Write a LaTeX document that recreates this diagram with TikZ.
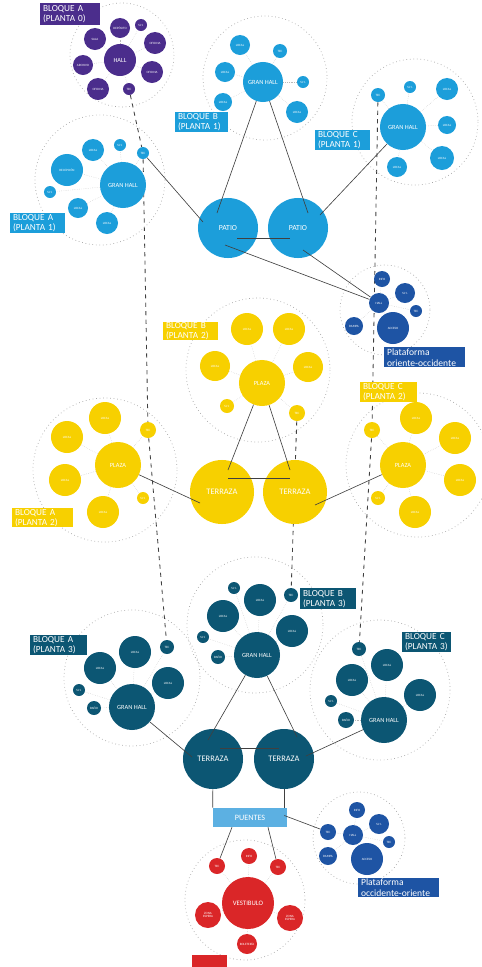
\documentclass[tikz,border=0pt]{standalone}
\usepackage{fontspec}
\setmainfont{Carlito}
\usetikzlibrary{backgrounds}
\definecolor{violeta}{RGB}{75,45,140}
\definecolor{celeste}{RGB}{28,158,218}
\definecolor{azul}{RGB}{30,84,164}
\definecolor{amarillo}{RGB}{247,208,0}
\definecolor{petroleo}{RGB}{12,86,115}
\definecolor{puente}{RGB}{92,176,226}
\definecolor{rojo}{RGB}{218,38,40}

\begin{document}
\begin{tikzpicture}[x=0.025cm, y=-0.025cm,
    sala/.style={circle, inner sep=0pt, minimum size=#1*0.05cm, text=white, align=center, font=\fontsize{2.3}{2.6}\selectfont},
    hub/.style={sala=#1, font=\fontsize{4.5}{5}\selectfont},
    grande/.style={sala=#1, font=\fontsize{6}{7}\selectfont},
    zona/.style={gray!70, dotted, line width=0.5pt},
    radio/.style={gray!55, densely dotted, line width=0.3pt},
    enlace/.style={black!75, line width=0.45pt},
    nivel/.style={black!75, dashed, line width=0.6pt},
    rotulo/.style={anchor=north west, inner xsep=2pt, inner ysep=0pt, text=white, align=left,
        minimum width=#1*0.025cm, text width=#1*0.025cm-4pt, minimum height=20*0.025cm,
        font=\fontsize{6.6}{7}\selectfont}]
    \useasboundingbox (0,0) rectangle (481,967);

    % bloque A planta 0
    \draw[zona] (122,55) circle (52);
    \node[hub=16, fill=violeta] (hallA0) at (120,60) {HALL};
    \node[sala=10, fill=violeta] (a0a) at (120,28) {DEPÓSITO};
    \node[sala=6, fill=violeta] (a0b) at (141,25) {S.H.};
    \node[sala=11, fill=violeta] (a0c) at (155,43) {OFICINA};
    \node[sala=11, fill=violeta] (a0d) at (95,39) {SALA};
    \node[sala=10, fill=violeta] (a0e) at (83,65) {ARCHIVO};
    \node[sala=11, fill=violeta] (a0f) at (152,72) {OFICINA};
    \node[sala=11, fill=violeta] (a0g) at (98,89) {OFICINA};
    \node[sala=6, fill=violeta] (tecA0) at (129,89) {TEC};
    \node[rotulo=60, fill=violeta, minimum height=22*0.025cm] (rotA0) at (40,3) {BLOQUE A\\(PLANTA 0)};

    % bloque B planta 1
    \draw[zona] (265,78) circle (62);
    \node[hub=20, fill=celeste] (hallB1) at (263,82) {GRAN HALL};
    \node[sala=10, fill=celeste] (b1a) at (240,45) {LOCAL};
    \node[sala=7, fill=celeste] (tecB1) at (280,51) {TEC};
    \node[sala=10, fill=celeste] (b1c) at (225,72) {LOCAL};
    \node[sala=6, fill=celeste] (b1d) at (303,82) {S.H.};
    \node[sala=9, fill=celeste] (b1e) at (223,102) {LOCAL};
    \node[sala=11, fill=celeste] (b1f) at (297,112) {LOCAL};
    \node[rotulo=53, fill=celeste] (rotB1) at (175,112) {BLOQUE B\\(PLANTA 1)};

    % bloque C planta 1
    \draw[zona] (415,122) circle (63);
    \node[hub=23, fill=celeste] (hallC1) at (403,127) {GRAN HALL};
    \node[sala=7, fill=celeste] (tecC1) at (378,95) {TEC};
    \node[sala=6, fill=celeste] (c1b) at (410,87) {S.H.};
    \node[sala=11, fill=celeste] (c1c) at (447,89) {LOCAL};
    \node[sala=9, fill=celeste] (c1d) at (447,125) {LOCAL};
    \node[sala=12, fill=celeste] (c1e) at (442,158) {LOCAL};
    \node[sala=10, fill=celeste] (c1f) at (397,167) {LOCAL};
    \node[rotulo=55, fill=celeste] (rotC1) at (315,130) {BLOQUE C\\(PLANTA 1)};

    % bloque A planta 1
    \draw[zona] (100,180) circle (65);
    \node[hub=23, fill=celeste] (hallA1) at (123,185) {GRAN HALL};
    \node[sala=16, fill=celeste] (a1a) at (67,170) {RECEPCIÓN};
    \node[sala=11, fill=celeste] (a1b) at (93,150) {LOCAL};
    \node[sala=6, fill=celeste] (a1c) at (120,145) {S.H.};
    \node[sala=6, fill=celeste] (tecA1) at (143,153) {TEC};
    \node[sala=6, fill=celeste] (a1e) at (50,192) {S.H.};
    \node[sala=10, fill=celeste] (a1f) at (78,208) {LOCAL};
    \node[sala=11, fill=celeste] (a1g) at (107,223) {LOCAL};
    \node[rotulo=55, fill=celeste] (rotA1) at (10,213) {BLOQUE A\\(PLANTA 1)};

    % patios
    \node[grande=30, fill=celeste, font=\fontsize{5.5}{6}\selectfont] (patio1) at (228,228) {PATIO};
    \node[grande=30, fill=celeste, font=\fontsize{5.5}{6}\selectfont] (patio2) at (298,228) {PATIO};

    % plataforma oriente-occidente
    \draw[zona] (385,310) circle (45);
    \node[sala=10, fill=azul] (hubPO) at (379,303) {HALL};
    \node[sala=8, fill=azul] (po1) at (382,279) {INFO};
    \node[sala=10, fill=azul] (po2) at (405,293) {S.H.};
    \node[sala=6, fill=azul] (po3) at (416,311) {TEC};
    \node[sala=9, fill=azul] (po4) at (354,326) {RAMPA};
    \node[sala=16, fill=azul] (po5) at (393,328) {ACCESO};
    \node[rotulo=81, fill=azul, font=\fontsize{6.8}{7.8}\selectfont] (rotPO) at (384,347) {Plataforma\\oriente-occidente};

    % bloque B planta 2
    \draw[zona] (258,370) circle (72);
    \node[hub=23, fill=amarillo] (plazaB2) at (262,383) {PLAZA};
    \node[sala=16, fill=amarillo] (b2a) at (247,329) {LOCAL};
    \node[sala=16, fill=amarillo] (b2b) at (289,329) {LOCAL};
    \node[sala=15, fill=amarillo] (b2c) at (215,366) {LOCAL};
    \node[sala=15, fill=amarillo] (b2d) at (308,367) {LOCAL};
    \node[sala=7, fill=amarillo] (b2e) at (227,406) {S.H.};
    \node[sala=8, fill=amarillo] (tecB2) at (297,413) {TEC};
    \node[rotulo=55, fill=amarillo, minimum height=18*0.025cm] (rotB2) at (163,322) {BLOQUE B\\(PLANTA 2)};

    % bloque A planta 2
    \draw[zona] (105,470) circle (72);
    \node[hub=23, fill=amarillo] (plazaA2) at (118,465) {PLAZA};
    \node[sala=16, fill=amarillo] (a2a) at (105,418) {LOCAL};
    \node[sala=16, fill=amarillo] (a2b) at (67,437) {LOCAL};
    \node[sala=8, fill=amarillo] (tecA2) at (148,430) {TEC};
    \node[sala=16, fill=amarillo] (a2d) at (65,480) {LOCAL};
    \node[sala=6, fill=amarillo] (a2e) at (143,498) {S.H.};
    \node[sala=16, fill=amarillo] (a2f) at (103,512) {LOCAL};
    \node[rotulo=61, fill=amarillo, minimum height=19*0.025cm] (rotA2) at (12,508) {BLOQUE A\\(PLANTA 2)};

    % bloque C planta 2
    \draw[zona] (418,465) circle (72);
    \node[hub=23, fill=amarillo] (plazaC2) at (403,465) {PLAZA};
    \node[sala=16, fill=amarillo] (c2a) at (416,418) {LOCAL};
    \node[sala=16, fill=amarillo] (c2b) at (455,438) {LOCAL};
    \node[sala=16, fill=amarillo] (c2c) at (460,480) {LOCAL};
    \node[sala=16, fill=amarillo] (c2d) at (415,512) {LOCAL};
    \node[sala=8, fill=amarillo] (tecC2) at (372,430) {TEC};
    \node[sala=7, fill=amarillo] (c2f) at (378,498) {S.H.};
    \node[rotulo=57, fill=amarillo] (rotC2) at (360,382) {BLOQUE C\\(PLANTA 2)};

    % terrazas planta 2
    \node[grande=32, fill=amarillo] (terrY1) at (222,492) {TERRAZA};
    \node[grande=32, fill=amarillo] (terrY2) at (295,492) {TERRAZA};

    % bloque B planta 3
    \draw[zona] (255,625) circle (68);
    \node[hub=23, fill=petroleo] (hallB3) at (257,655) {GRAN HALL};
    \node[sala=16, fill=petroleo] (b3a) at (260,600) {LOCAL};
    \node[sala=16, fill=petroleo] (b3b) at (223,616) {LOCAL};
    \node[sala=16, fill=petroleo] (b3c) at (292,631) {LOCAL};
    \node[sala=6, fill=petroleo] (b3d) at (234,588) {S.H.};
    \node[sala=7, fill=petroleo] (tecB3) at (291,595) {TEC};
    \node[sala=6, fill=petroleo] (b3f) at (203,637) {S.H.};
    \node[sala=7, fill=petroleo] (b3g) at (218,657) {BAÑO};
    \node[rotulo=56, fill=petroleo, minimum height=21*0.025cm] (rotB3) at (300,588) {BLOQUE B\\(PLANTA 3)};

    % bloque A planta 3
    \draw[zona] (132,678) circle (68);
    \node[hub=23, fill=petroleo] (hallA3) at (132,707) {GRAN HALL};
    \node[sala=16, fill=petroleo] (a3a) at (135,652) {LOCAL};
    \node[sala=16, fill=petroleo] (a3b) at (100,668) {LOCAL};
    \node[sala=16, fill=petroleo] (a3c) at (168,683) {LOCAL};
    \node[sala=7, fill=petroleo] (tecA3) at (167,647) {TEC};
    \node[sala=6, fill=petroleo] (a3e) at (79,690) {S.H.};
    \node[sala=7, fill=petroleo] (a3f) at (94,708) {BAÑO};
    \node[rotulo=57, fill=petroleo] (rotA3) at (30,635) {BLOQUE A\\(PLANTA 3)};

    % bloque C planta 3
    \draw[zona] (380,690) circle (70);
    \node[hub=23, fill=petroleo] (hallC3) at (384,720) {GRAN HALL};
    \node[sala=16, fill=petroleo] (c3a) at (387,665) {LOCAL};
    \node[sala=16, fill=petroleo] (c3b) at (352,680) {LOCAL};
    \node[sala=16, fill=petroleo] (c3c) at (420,695) {LOCAL};
    \node[sala=7, fill=petroleo] (tecC3) at (359,649) {TEC};
    \node[sala=6, fill=petroleo] (c3e) at (331,701) {S.H.};
    \node[sala=8, fill=petroleo] (c3f) at (346,720) {BAÑO};
    \node[rotulo=49, fill=petroleo] (rotC3) at (402,632) {BLOQUE C\\(PLANTA 3)};

    % terrazas planta 3
    \node[grande=30, fill=petroleo] (terrT1) at (213,759) {TERRAZA};
    \node[grande=30, fill=petroleo] (terrT2) at (284,759) {TERRAZA};
    \node[fill=puente, text=white, inner sep=0pt, minimum width=74*0.025cm, minimum height=19*0.025cm,
        font=\fontsize{5.8}{6}\selectfont] (puentes) at (250,817.5) {PUENTES};

    % plataforma occidente-oriente
    \draw[zona] (359,838) circle (46);
    \node[sala=10, fill=azul] (hubOcO) at (353,835) {HALL};
    \node[sala=8, fill=azul] (entOcO) at (328,832) {TEC};
    \node[sala=8, fill=azul] (o2) at (357,810) {INFO};
    \node[sala=10, fill=azul] (o3) at (379,824) {S.H.};
    \node[sala=6, fill=azul] (o5) at (389,842) {TEC};
    \node[sala=9, fill=azul] (o6) at (328,856) {RAMPA};
    \node[sala=16, fill=azul] (o7) at (367,859) {ACCESO};
    \node[rotulo=81, fill=azul, minimum height=19*0.025cm, font=\fontsize{6.8}{7.8}\selectfont] (rotOcO) at (358,878) {Plataforma\\occidente-oriente};

    % vestibulo
    \draw[zona] (245,900) circle (60);
    \node[sala=26, fill=rojo, font=\fontsize{4.8}{5}\selectfont] (vestibulo) at (248,903) {VESTIBULO};
    \node[sala=8, fill=rojo] (tecV1) at (217,866) {TEC};
    \node[sala=8, fill=rojo] (infoV) at (249,856) {INFO};
    \node[sala=8, fill=rojo] (tecV2) at (278,867) {TEC};
    \node[sala=13, fill=rojo] (v4) at (208,915) {ZONA\\ESPERA};
    \node[sala=13, fill=rojo] (v5) at (290,918) {ZONA\\ESPERA};
    \node[sala=10, fill=rojo] (v6) at (247,944) {BOLETERÍA};
    \node[fill=rojo, anchor=north west, inner sep=0pt, minimum width=35*0.025cm, minimum height=12*0.025cm] (pie) at (192,955) {};

    \begin{pgfonlayer}{background}
        \foreach \s in {a0a,a0b,a0c,a0d,a0e,a0f,a0g,tecA0} \draw[radio] (hallA0) -- (\s);
        \foreach \s in {b1a,tecB1,b1c,b1d,b1e,b1f} \draw[radio] (hallB1) -- (\s);
        \foreach \s in {tecC1,c1b,c1c,c1d,c1e,c1f} \draw[radio] (hallC1) -- (\s);
        \foreach \s in {a1a,a1b,a1c,tecA1,a1e,a1f,a1g} \draw[radio] (hallA1) -- (\s);
        \foreach \s in {po1,po2,po3,po4,po5} \draw[radio] (hubPO) -- (\s);
        \foreach \s in {b2a,b2b,b2c,b2d,b2e,tecB2} \draw[radio] (plazaB2) -- (\s);
        \foreach \s in {a2a,a2b,tecA2,a2d,a2e,a2f} \draw[radio] (plazaA2) -- (\s);
        \foreach \s in {c2a,c2b,c2c,c2d,tecC2,c2f} \draw[radio] (plazaC2) -- (\s);
        \foreach \s in {b3a,b3b,b3c,b3d,tecB3,b3f,b3g} \draw[radio] (hallB3) -- (\s);
        \foreach \s in {a3a,a3b,a3c,tecA3,a3e,a3f} \draw[radio] (hallA3) -- (\s);
        \foreach \s in {c3a,c3b,c3c,tecC3,c3e,c3f} \draw[radio] (hallC3) -- (\s);
        \foreach \s in {entOcO,o2,o3,o5,o6,o7} \draw[radio] (hubOcO) -- (\s);
        \foreach \s in {tecV1,infoV,tecV2,v4,v5,v6} \draw[radio] (vestibulo) -- (\s);
        \draw[nivel] (tecA0) -- (tecA1) -- (tecA2) -- (tecA3);
        \draw[nivel] (tecC1) -- (tecC2) -- (tecC3);
        \draw[nivel] (tecB2) -- (tecB3);
    \end{pgfonlayer}

    \draw[enlace] (hallB1) -- ([shift={(-11,-15)}]patio1.center);
    \draw[enlace] (hallB1) -- ([shift={(10,-15)}]patio2.center);
    \draw[enlace] (tecA1) -- ([shift={(-25,-6)}]patio1.center);
    \draw[enlace] (hallC1) -- ([shift={(22,-13)}]patio2.center);
    \draw[enlace] ([shift={(9,10)}]patio1.center) -- ([shift={(-8,10)}]patio2.center);
    \draw[enlace] ([shift={(-3,17)}]patio1.center) -- (hubPO);
    \draw[enlace] ([shift={(5,22)}]patio2.center) -- (hubPO);
    \draw[enlace] (plazaB2) -- ([shift={(6,-22)}]terrY1.center);
    \draw[enlace] (plazaB2) -- ([shift={(-5,-22)}]terrY2.center);
    \draw[enlace] (plazaA2) -- ([shift={(-22,11)}]terrY1.center);
    \draw[enlace] (plazaC2) -- ([shift={(20,13)}]terrY2.center);
    \draw[enlace] ([shift={(6,-14)}]terrY1.center) -- ([shift={(-5,-14)}]terrY2.center);
    \draw[enlace] (hallB3) -- ([shift={(-5,-19)}]terrT1.center);
    \draw[enlace] (hallB3) -- ([shift={(13,-22)}]terrT2.center);
    \draw[enlace] (hallA3) -- ([shift={(-21,-2)}]terrT1.center);
    \draw[enlace] (hallC3) -- ([shift={(22,-3)}]terrT2.center);
    \draw[enlace] ([shift={(7,-11)}]terrT1.center) -- ([shift={(-5,-11)}]terrT2.center);
    \draw[enlace] (terrT1) -- (puentes.north west);
    \draw[enlace] (terrT2) -- (terrT2 |- puentes.north);
    \draw[enlace] ([shift={(-3,-2)}]puentes.east) -- (entOcO);
    \draw[enlace] ([xshift=-18*0.025cm]puentes.south) -- (tecV1);
    \draw[enlace] ([xshift=18*0.025cm]puentes.south) -- (tecV2);
\end{tikzpicture}
\end{document}
